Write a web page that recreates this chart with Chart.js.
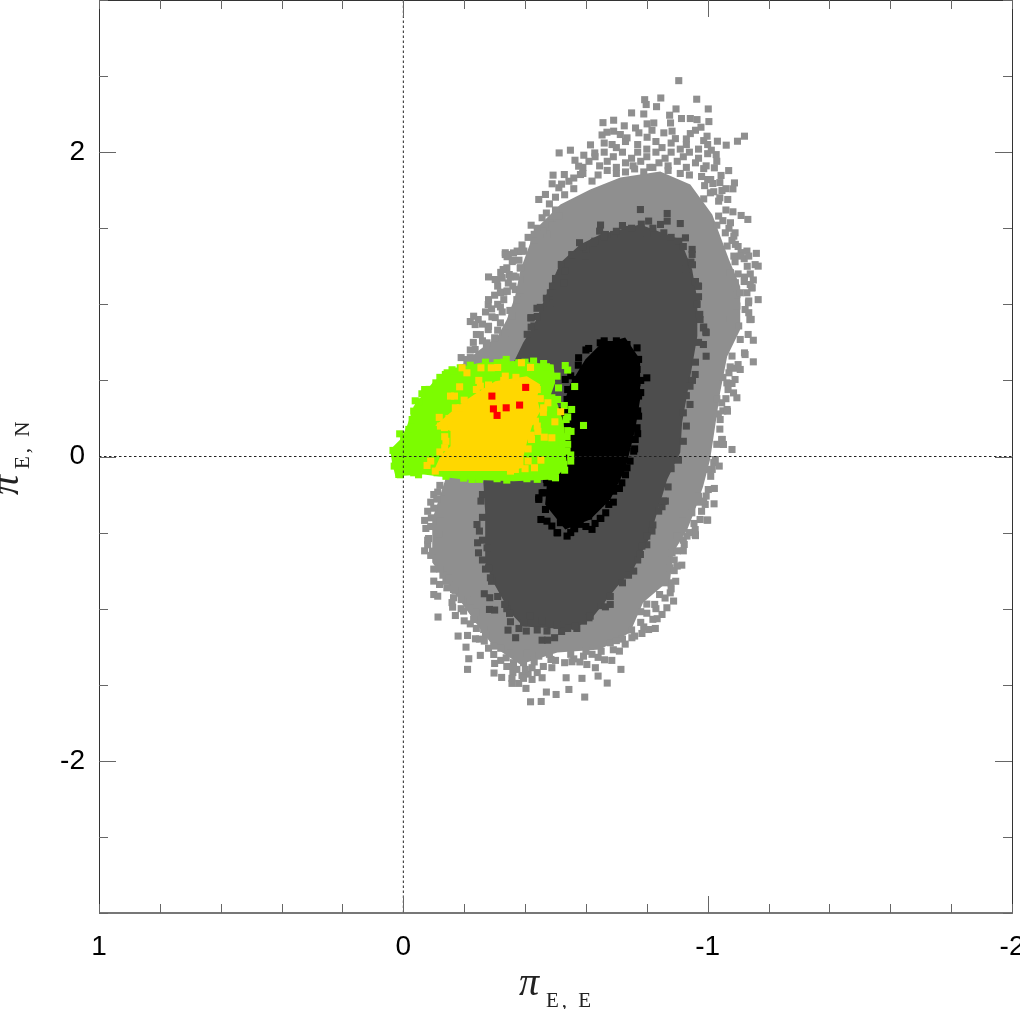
<!DOCTYPE html>
<html>
<head>
<meta charset="utf-8">
<title>Parallax</title>
<script src="https://cdn.jsdelivr.net/npm/chart.js@4"></script>
<style>
  html, body { margin: 0; padding: 0; background: #fff; }
  canvas { display: block; }
</style>
</head>
<body>
<canvas id="chart" width="1020" height="1009"></canvas>
<script>
const xLabels = [1, 0, -1, -2];
const yLabels = [2, 0, -2];
const xMajor = [0, -1];
const yMajor = [2, 0, -2];

const zeroV = [[0, -3], [0, 3]];
const zeroH = [[1, 0], [-2, 0]];

// solid part of each cloud
const lightCore = [[-0.516,1.656],[-0.614,1.754],[-0.713,1.833],[-0.844,1.873],[-0.943,1.787],[-1.015,1.59],[-1.07,1.294],[-1.107,1.117],[-1.107,0.834],[-1.064,0.657],[-1.041,0.42],[-1.018,0.112],[-1.008,-0.02],[-0.985,-0.197],[-0.959,-0.348],[-0.933,-0.48],[-0.887,-0.631],[-0.877,-0.808],[-0.788,-0.959],[-0.745,-1.156],[-0.647,-1.268],[-0.506,-1.288],[-0.384,-1.367],[-0.296,-1.248],[-0.23,-1.071],[-0.154,-0.854],[-0.095,-0.696],[-0.095,-0.414],[-0.138,-0.151],[-0.19,0.6],[-0.25,0.7],[-0.31,0.79],[-0.34,0.9],[-0.367,1.05],[-0.385,1.228],[-0.42,1.42],[-0.45,1.524]];
const darkCore = [[-0.647,1.459],[-0.778,1.525],[-0.91,1.426],[-0.949,1.229],[-0.966,1.032],[-0.966,0.79],[-0.943,0.525],[-0.916,0.223],[-0.91,0.026],[-0.867,-0.151],[-0.834,-0.368],[-0.811,-0.525],[-0.755,-0.742],[-0.703,-0.854],[-0.624,-1.051],[-0.558,-1.137],[-0.394,-1.117],[-0.351,-1.025],[-0.296,-0.828],[-0.269,-0.696],[-0.269,-0.368],[-0.263,-0.171],[-0.286,0.243],[-0.351,0.572],[-0.394,0.749],[-0.427,0.854],[-0.473,1.077],[-0.516,1.274],[-0.581,1.393]];
const blackCore = [[-0.647,0.736],[-0.729,0.782],[-0.778,0.637],[-0.778,0.375],[-0.762,0.177],[-0.729,-0.085],[-0.68,-0.283],[-0.614,-0.414],[-0.532,-0.48],[-0.466,-0.315],[-0.476,-0.085],[-0.499,0.177],[-0.548,0.473],[-0.598,0.637]];
const greenCore = [[0.01,0.112],[-0.012,0.2],[-0.034,0.331],[-0.1,0.495],[-0.176,0.583],[-0.253,0.616],[-0.362,0.627],[-0.494,0.605],[-0.499,0.484],[-0.483,0.397],[-0.505,0.353],[-0.527,0.222],[-0.532,0.046],[-0.538,-0.063],[-0.494,-0.151],[-0.362,-0.162],[-0.198,-0.151],[-0.067,-0.118],[0.026,-0.129],[0.037,-0.041],[0.043,0.046]];
const yellowCore = [[-0.16,0.298],[-0.209,0.375],[-0.242,0.419],[-0.302,0.495],[-0.406,0.528],[-0.45,0.473],[-0.439,0.386],[-0.45,0.298],[-0.423,0.2],[-0.406,0.09],[-0.395,0.003],[-0.395,-0.074],[-0.341,-0.096],[-0.198,-0.096],[-0.1,-0.096],[-0.122,0.003],[-0.155,0.068],[-0.155,0.167],[-0.105,0.204]];

// scattered points around them
const lightPts = [[-0.905,2.47],[-0.793,2.345],[-0.846,2.356],[-0.798,2.313],[-0.964,2.348],[-0.832,2.299],[-0.75,2.258],[-0.79,2.251],[-1.002,2.284],[-0.896,2.284],[-0.875,2.243],[-0.914,2.221],[-0.943,2.221],[-0.965,2.214],[-1.004,2.201],[-0.691,2.21],[-0.656,2.194],[-0.726,2.173],[-0.801,2.186],[-0.823,2.192],[-0.763,2.159],[-0.878,2.192],[-0.978,2.164],[-0.817,2.144],[-0.774,2.127],[-0.96,2.144],[-0.943,2.122],[-0.653,2.113],[-0.669,2.131],[-0.691,2.138],[-0.713,2.116],[-0.735,2.094],[-0.801,2.098],[-0.856,2.127],[-0.883,2.138],[-0.998,2.105],[-1.121,2.105],[-1.098,2.072],[-1.032,2.072],[-1.061,2.046],[-0.987,2.076],[-0.93,2.087],[-0.894,2.089],[-0.615,2.048],[-0.549,2.013],[-0.512,1.995],[-0.593,1.98],[-0.629,1.995],[-1.012,2.013],[-1.028,1.984],[-0.686,2.05],[-0.564,1.947],[-1.022,1.897],[-0.987,1.892],[-1.069,1.879],[-0.492,1.849],[-0.529,1.853],[-0.576,1.908],[-0.582,1.853],[-1.044,1.847],[-1.088,1.798],[-1,1.82],[-1.017,1.794],[-1.083,1.759],[-1.047,1.748],[-0.489,1.792],[-0.544,1.809],[-0.511,1.766],[-0.467,1.722],[-0.445,1.689],[-0.5,1.704],[-1.009,1.733],[-0.987,1.693],[-1.036,1.678],[-1.066,1.689],[-0.456,1.569],[-1.083,1.608],[-1.11,1.584],[-1.132,1.558],[-0.472,1.459],[-0.483,1.536],[-0.335,1.339],[-0.341,1.313],[-0.374,1.35],[-0.396,1.35],[-0.429,1.42],[-1.16,1.335],[-1.129,1.35],[-1.166,1.251],[-1.121,1.179],[-1.146,1.109],[-0.385,1.24],[-0.363,1.186],[-0.324,1.175],[-0.341,1.087],[-1.143,0.901],[-1.135,1.022],
  [-0.66,2.06],[-0.7,2.03],[-0.73,2.07],[-0.77,2.05],[-0.8,2.02],[-0.83,2.07],[-0.85,2.03],[-0.88,2.06],[-0.91,2.02],[-0.93,2.05],[-0.97,2.02],[-1,2.05],
  [-0.63,1.97],[-0.66,2],[-0.69,1.97],[-0.72,2],[-0.75,1.96],[-0.77,2],[-0.8,1.97],[-0.83,2],[-0.86,1.96],[-0.88,2],[-0.92,1.97],[-0.94,2],[-0.97,1.96],[-1,1.99],
  [-0.59,1.9],[-0.61,1.94],[-0.645,1.91],[-0.67,1.94],[-0.7,1.9],[-0.73,1.93],[-0.755,1.91],[-0.78,1.94],[-0.81,1.9],[-0.84,1.93],[-0.87,1.91],[-0.9,1.94],[-0.93,1.9],[-0.96,1.93],[-0.995,1.91],[-1.03,1.94],
  [-0.52,1.79],[-0.56,1.83],[-0.59,1.86],[-0.62,1.81],[-0.64,1.85],[-0.67,1.88],[-0.7,1.86],[-0.73,1.87],[-0.76,1.89],[-0.79,1.87],[-0.82,1.9],[-0.87,1.88],[-0.91,1.86],[-0.94,1.85],[-0.98,1.84],[-1.01,1.82],[-1.04,1.8],[-1.06,1.76],[-1.02,1.74],[-0.99,1.78],
  [-0.48,1.66],[-0.5,1.62],[-0.53,1.72],[-0.51,1.58],[-0.47,1.6],[-0.56,1.76],[-0.49,1.52],[-0.46,1.48],[-0.44,1.5],[-0.43,1.46],[-0.42,1.52],
  [-1.04,1.7],[-1.06,1.62],[-1.05,1.55],[-1.03,1.52],[-1.07,1.5],[-1.09,1.47],[-1.08,1.42],[-1.1,1.38],[-1.11,1.34],[-1.12,1.3],[-1.09,1.28],[-1.13,1.25],[-1.14,1.2],[-1.1,1.2],[-1.12,1.15],[-1.15,1.16],
  [-0.36,1.29],[-0.34,1.24],[-0.32,1.21],[-0.345,1.14],[-0.31,1.12],[-0.33,1.08],[-0.3,1.06],[-0.325,0.95],[-0.31,1],[-0.29,0.97],[-0.27,0.95],[-0.26,0.87],[-0.31,0.83],[-0.3,0.78],[-0.26,0.76],[-0.23,0.75],[-0.22,0.7],[-0.19,0.65],[-0.35,0.96],[-0.36,1.12],[-0.37,1.18],[-0.38,1.29],[-0.39,1.39],[-0.41,1.44],
  [-1.08,0.66],[-1.09,0.58],[-1.07,0.55],[-1.08,0.48],[-1.05,0.52],[-1.06,0.38],[-1.05,0.3],[-1.04,0.18],[-1.035,0.28],[-1.03,0.08],[-1.02,-0.04],[-1.01,-0.13],[-0.995,-0.26],[-0.98,-0.36],[-0.97,-0.3],[-0.955,-0.44],[-1.03,0.38],
  [-0.96,-0.52],[-0.92,-0.55],[-0.9,-0.52],[-0.92,-0.62],[-0.89,-0.68],[-0.9,-0.72],[-0.895,-0.82],[-0.88,-0.87],[-0.86,-0.93],[-0.83,-1],[-0.82,-1.07],[-0.8,-1.03],[-0.78,-1.09],[-0.79,-1.12],[-0.76,-1.18],[-0.72,-1.2],[-0.69,-1.27],[-0.64,-1.32],[-0.62,-1.3],[-0.58,-1.35],[-0.56,-1.33],[-0.5,-1.34],[-0.46,-1.38],[-0.44,-1.42],[-0.41,-1.43],[-0.39,-1.44],[-0.36,-1.42],[-0.34,-1.38],[-0.32,-1.34],[-0.3,-1.36],[-0.28,-1.26],[-0.25,-1.2],[-0.24,-1.13],[-0.22,-1.1],[-0.2,-1.08],[-0.19,-1],[-0.16,-0.96],[-0.17,-0.88],[-0.14,-0.82],[-0.13,-0.78],[-0.1,-0.74],[-0.07,-0.62],[-0.08,-0.58],[-0.07,-0.42],[-0.08,-0.36],[-0.1,-0.25],[-0.12,-0.19],[-0.09,-0.3],
  [-0.345,1.327],[-0.358,1.281],[-0.378,1.347],[-0.328,1.229],[-0.302,1.163],[-0.348,1.196],[-0.368,1.097],[-0.319,1.077],[-0.279,0.999],[-0.302,0.913],[-0.246,0.9],[-0.22,0.887],[-0.279,0.834],[-0.24,0.802],[-0.273,0.736],[-0.236,0.703],[-0.22,0.65],
  [-0.28,1.18],[-0.308,1.163],[-0.324,1.174],[-0.351,1.18],[-0.384,1.239],[-0.335,1.327],[-0.362,1.338],[-0.39,1.349],[-0.341,1.086],[-0.28,1.031],[-0.33,1.031],[-0.319,0.983],[-0.231,0.922],[-0.236,0.867],[-0.291,0.918],[-0.28,0.856],[-0.253,0.801],[-0.319,0.878],[-0.384,1.097],[-0.406,1.163],[-0.373,1.031],[-0.357,0.922],[-0.335,0.812],[-0.275,0.747],[-0.209,0.637],
  [-1.156,1.261],[-1.14,1.13],[-1.166,1.031],[-1.123,0.966],[-1.14,0.9],[-1.107,0.769],[-1.123,0.67],[-1.133,0.802],[-1.1,0.604],[-1.09,0.506],[-1.067,0.44],[-1.064,0.309],[-1.041,0.243],[-1.048,0.112],[-1.025,-0.02],[-1.015,-0.085],[-1.002,-0.217],[-0.992,-0.315],[-0.975,-0.414],[-0.959,-0.512],
  [-1.145,1.108],[-1.096,1.064],[-1.134,1.01],[-1.139,0.9],[-1.15,0.764],[-1.121,0.681],[-1.15,0.622],[-1.107,0.572],[-1.096,0.386],[-1.065,0.298],[-1.046,0.353],[-1.046,0.112],[-1.052,0.079],[-1.08,0.046],[-1.038,-0.063],[-1.002,-0.085],[-1.022,-0.21],[-1.021,-0.311],[-1,-0.418],[-1.085,0.418],[-1.074,0.589],[-1.063,0.484],
  [-1.036,1.58],[-1.075,1.536],[-1.058,1.47],[-1.086,1.448],[-1.091,1.394],[-1.064,1.383],[-1.107,1.317],[-1.086,1.317],[-1.135,1.317],[-1.075,1.208],[-1.091,1.142],[-1.107,1.076],[-1.129,1.076],[-1.135,0.945],[-1.096,0.989],[-1.075,0.901],[-1.102,0.858],
  [-0.113,-0.234],[-0.127,-0.282],[-0.092,-0.403],[-0.074,-0.473],[-0.122,-0.425],[-0.083,-0.539],[-0.116,-0.512],[-0.096,-0.622],[-0.1,-0.819],[-0.119,-0.841],[-0.1,-0.907],[-0.113,-0.918],[-0.143,-0.863],[-0.165,-0.928],[-0.162,-0.99],[-0.114,-1.055],[-0.171,-1.045],[-0.198,-1.016],[-0.22,-0.95],[-0.231,-1.071],[-0.18,-1.18],[-0.211,-1.176],[-0.237,-1.198],[-0.266,-1.213],[-0.206,-1.253],[-0.215,-1.329],[-0.253,-1.307],[-0.211,-1.399],[-0.297,-1.301],[-0.338,-1.323],[-0.298,-1.423],[-0.323,-1.452],[-0.357,-1.458],[-0.357,-1.491],[-0.379,-1.491],[-0.403,-1.524],[-0.395,-1.458],[-0.423,-1.465],[-0.373,-1.399],[-0.401,-1.399],[-0.423,-1.388],[-0.456,-1.454],[-0.488,-1.388],[-0.485,-1.334],[-0.53,-1.355],[-0.554,-1.349],[-0.535,-1.454],[-0.587,-1.458],[-0.603,-1.367],[-0.631,-1.388],[-0.64,-1.443],[-0.67,-1.489],[-0.544,-1.531],[-0.47,-1.548],[-0.502,-1.564],[-0.418,-1.612],[-0.453,-1.61],[-0.596,-1.581],[-0.715,-1.399],[-0.661,-1.336],[-0.685,-1.34],[-0.71,-1.279],[-0.729,-1.233],[-0.68,-1.224],[-0.751,-1.191],[-0.784,-1.163],[-0.806,-1.137],[-0.828,-1.13],[-0.834,-1.066],[-0.85,-1.038],[-0.866,-0.994],[-0.888,-0.95],[-0.826,-0.972],[-0.842,-0.907],[-0.877,-0.896],[-0.879,-0.83],[-0.877,-0.731],[-0.915,-0.714],[-0.883,-0.633],[-0.923,-0.578],[-0.959,-0.48],[-0.932,-0.523],[-0.998,-0.418],[-0.948,-0.37],[-0.915,-0.425],[-0.987,-0.293],[-0.97,-0.261],
  [-0.352,-1.29],[-0.395,-1.355],[-0.445,-1.312],[-0.362,-1.355],[-0.297,-1.246],[-0.264,-1.137],[-0.406,-1.29],[-0.592,-1.312],[-0.209,-0.896],[-0.165,-0.874],
  [-0.1,-0.34],[-0.11,-0.28],[-0.09,-0.46],[-0.08,-0.55],[-0.09,-0.65],[-0.12,-0.74],[-0.15,-0.8],[-0.19,-0.94],[-0.24,-1.02],[-0.27,-1.17],[-0.32,-1.26],[-0.36,-1.38],[-0.43,-1.35],[-0.48,-1.3],[-0.55,-1.3],[-0.6,-1.28],[-0.65,-1.28],[-0.7,-1.21],[-0.75,-1.14],[-0.78,-1.02],[-0.8,-0.97],[-0.86,-0.83],[-0.89,-0.75],[-0.9,-0.62],[-0.94,-0.5]];

const darkPts = [[-0.779,1.623],[-0.867,1.597],[-0.782,1.527],[-0.806,1.547],[-0.867,1.547],[-0.845,1.525],[-0.91,1.531],[-0.648,1.521],[-0.645,1.481],[-0.72,1.518],[-0.691,1.459],[-0.741,1.492],[-0.927,1.437],[-0.856,1.47],[-0.905,1.415],[-0.579,1.405],[-0.629,1.415],[-0.601,1.365],[-0.554,1.324],[-0.949,1.361],[-0.949,1.328],[-0.519,1.262],[-0.945,1.278],[-0.93,1.234],[-0.527,1.138],[-0.483,1.076],[-0.968,1.12],[-0.965,0.999],[-0.439,0.974],[-0.42,0.912],[-0.974,0.934],[-0.987,0.851],[-0.995,0.814],[-0.483,1.011],[-0.429,0.858],[-0.407,0.803],[-0.664,1.459],[-0.801,1.47],[-0.598,1.317],
  [-0.53,1.22],[-0.5,1.17],[-0.49,1.12],[-0.47,1.04],[-0.45,0.98],[-0.44,0.92],[-0.42,0.85],[-0.59,1.38],[-0.66,1.44],[-0.7,1.48],[-0.75,1.5],[-0.82,1.5],[-0.88,1.44],[-0.92,1.38],[-0.95,1.26],[-0.96,1.15],[-0.97,1.05],[-0.975,0.9],[-0.97,0.75],[-0.96,0.62],[-0.95,0.5],[-0.93,0.4],[-0.93,0.2],[-0.92,0.1],[-0.88,-0.08],[-0.87,-0.2],[-0.85,-0.33],[-0.82,-0.45],[-0.8,-0.58],[-0.77,-0.68],[-0.74,-0.78],[-0.72,-0.83],[-0.68,-0.92],[-0.65,-0.98],[-0.61,-1.06],[-0.57,-1.13],[-0.52,-1.15],[-0.44,-1.14],[-0.38,-1.13],[-0.34,-1],[-0.31,-0.92],[-0.29,-0.82],[-0.27,-0.74],[-0.26,-0.68],[-0.26,-0.55],[-0.26,-0.4],[-0.26,-0.25],
  [-0.97,1.119],[-0.964,1.005],[-0.973,0.933],[-0.986,0.845],[-0.994,0.819],[-0.986,0.736],[-0.995,0.659],[-0.959,0.539],[-0.942,0.462],[-0.942,0.342],[-0.92,0.287],[-0.904,-0.024],[-0.877,-0.048],[-0.855,-0.293],[-0.419,0.911],[-0.554,1.327],[-0.625,1.404],
  [-0.255,-0.293],[-0.242,-0.447],[-0.25,-0.49],[-0.244,-0.567],[-0.247,-0.633],[-0.275,-0.6],[-0.28,-0.731],[-0.286,-0.797],[-0.266,-0.902],[-0.284,-0.928],[-0.283,-1.005],[-0.3,-1.009],[-0.333,-0.972],[-0.349,-1.031],[-0.352,-1.086],[-0.344,-1.141],[-0.369,-1.191],[-0.404,-1.147],[-0.395,-1.093],[-0.417,-1.049],[-0.472,-1.147],[-0.456,-1.207],[-0.474,-1.207],[-0.497,-1.191],[-0.456,-1.082],[-0.505,-1.11],[-0.54,-1.13],[-0.565,-1.115],[-0.592,-1.082],[-0.614,-1.049],[-0.664,-0.988],[-0.68,-0.972],[-0.757,-0.753],[-0.779,-0.644],[-0.784,-0.589],[-0.817,-0.49],[-0.8,-0.523],[-0.861,-0.293],[-0.839,-0.359]];

const blackPts = [[-0.647,0.747],[-0.68,0.736],[-0.609,0.71],[-0.576,0.649],[-0.735,0.736],[-0.768,0.714],[-0.74,0.638],[-0.773,0.638],[-0.768,0.572],[-0.8,0.517],[-0.768,0.484],[-0.773,0.397],[-0.773,0.265],[-0.768,0.189],[-0.762,0.112],[-0.757,0.035],[-0.735,-0.074],[-0.718,-0.173],[-0.691,-0.228],[-0.675,-0.315],[-0.647,-0.407],[-0.62,-0.479],[-0.581,-0.446],[-0.538,-0.523],[-0.505,-0.501],[-0.488,-0.457],[-0.452,-0.414],[-0.472,-0.425],[-0.467,-0.348],[-0.445,-0.282],[-0.461,-0.238],[-0.472,-0.173],[-0.532,0.506],[-0.538,0.375],[-0.592,0.572],[-0.565,0.506],[-0.625,0.638],
  [-0.456,-0.239],[-0.445,-0.271],[-0.507,-0.501],[-0.563,-0.475],[-0.649,-0.407],
  [-0.6,0.7],[-0.575,0.6],[-0.55,0.53],[-0.54,0.44],[-0.52,0.3],[-0.5,0.2],[-0.49,0.05],[-0.48,-0.05],[-0.47,-0.15],[-0.78,0.5],[-0.78,0.42],[-0.77,0.3],[-0.77,0.15],[-0.76,0.05],[-0.745,-0.03],[-0.73,-0.12],[-0.71,-0.21],[-0.69,-0.3],[-0.665,-0.37],[-0.63,-0.44],[-0.6,-0.46],[-0.55,-0.5],[-0.7,0.76],[-0.66,0.76],
  [-0.691,0.638],[-0.713,0.55],[-0.74,0.462],[-0.746,0.331],[-0.74,0.2],[-0.729,0.068],[-0.707,-0.063],[-0.68,-0.173],[-0.647,-0.304],[-0.609,-0.392],[-0.56,-0.457],[-0.516,-0.435],[-0.494,-0.326]];

const greenPts = [[0.012,0.149],[0.034,0.04],[0.023,0.003],[0.03,-0.063],[0.015,-0.118],[-0.039,0.366],[-0.061,0.412],[-0.085,0.441],[-0.107,0.484],[-0.138,0.539],[-0.165,0.561],[-0.338,0.638],[-0.308,0.616],[-0.428,0.627],[-0.532,0.598],[-0.54,0.568],[-0.505,0.528],[-0.51,0.451],[-0.563,0.46],[-0.488,0.386],[-0.507,0.375],[-0.529,0.335],[-0.553,0.309],[-0.535,0.243],[-0.592,0.204],[-0.551,0.165],[-0.538,0.13],[-0.521,0.09],[-0.538,0.035],[-0.527,-0.052],[-0.488,-0.133],[-0.406,-0.146],[-0.308,-0.146],[-0.226,-0.151],[-0.198,-0.142],[-0.111,-0.107],[-0.034,-0.107],[-0.029,0.243],[-0.034,0.298],[-0.018,0.178],[-0.001,0.112],[0.004,0.068],[-0.187,0.583],[-0.144,0.55],[-0.379,0.616],[-0.461,0.611],
  [-0.05,0.36],[-0.07,0.44],[-0.12,0.52],[-0.16,0.57],[-0.22,0.6],[-0.27,0.62],[-0.33,0.62],[-0.4,0.62],[-0.47,0.59],[0.01,-0.12],[-0.05,-0.12],[-0.14,-0.13],[-0.25,-0.15],[-0.34,-0.155],[-0.44,-0.15],[-0.5,-0.14],[-0.53,-0.09],[-0.55,-0.03],[-0.55,0.01],[-0.54,0.08],[-0.54,0.17],[-0.54,0.26]];

const yellowPts = [[-0.193,0.583],[-0.209,0.55],[-0.255,0.583],[-0.289,0.583],[-0.31,0.585],[-0.388,0.616],[-0.418,0.585],[-0.185,0.458],[-0.248,0.5],[-0.155,0.397],[-0.168,0.397],[-0.118,0.257],[-0.136,0.13],[-0.136,0.057],[-0.078,-0.059],[-0.105,-0.096],[-0.431,-0.074],[-0.452,-0.024],[-0.421,0.112],[-0.442,0.165],[-0.463,0.127],[-0.488,0.123],[-0.498,0.228],[-0.517,0.294],[-0.461,0.32],[-0.475,0.353],[-0.434,0.232],[-0.335,0.528],[-0.187,0.32],[-0.412,0.43],[-0.253,0.462],[-0.122,0.2],[-0.171,0.32],[-0.368,-0.085],[-0.352,-0.096],
  [-0.135,0.19],[-0.14,0.1],[-0.12,0.03],[-0.09,-0.03],[-0.15,0.25],[-0.2,0.37],[-0.33,0.5],[-0.37,0.52],[-0.28,0.47],[-0.24,0.44],[-0.44,0.44],[-0.45,0.38],[-0.46,0.29],[-0.44,0.2],[-0.42,0.14],[-0.41,0.05],[-0.41,-0.03],[-0.4,-0.08]];

const redPts = [[-0.402,0.454],[-0.291,0.397],[-0.382,0.338],[-0.338,0.32],[-0.296,0.313],[-0.308,0.27]];

const LIGHT = "#8f8f8f", DARK = "#4d4d4d", BLACK = "#000000", GREEN = "#7cfc00", YELLOW = "#ffd700", RED = "#ff0000";

function squares(data, color) {
  return { data, showLine: false, pointStyle: "rect", pointRadius: 5, pointBorderWidth: 0, pointBackgroundColor: color };
}
function core(data, color) {
  return { data, showLine: true, fill: "shape", tension: 0, borderWidth: 0, pointRadius: 0, backgroundColor: color };
}
function zero(data) {
  return { data, showLine: true, fill: false, borderColor: "#222", borderWidth: 1, borderDash: [2.5, 2.5], pointRadius: 0 };
}

const axisFrame = {
  id: "axisFrame",
  afterDatasetsDraw(chart) {
    const { ctx, chartArea: a, scales } = chart;
    ctx.save();
    ctx.strokeStyle = "#333";
    ctx.lineWidth = 1;
    ctx.beginPath();
    ctx.moveTo(a.left + 0.5, a.bottom);
    ctx.lineTo(a.left + 0.5, a.top + 0.5);
    ctx.lineTo(a.right + 0.5, a.top + 0.5);
    ctx.lineTo(a.right + 0.5, a.bottom);
    ctx.stroke();
    ctx.strokeStyle = "#777";
    ctx.lineWidth = 2;
    ctx.beginPath();
    ctx.moveTo(a.left, a.bottom);
    ctx.lineTo(a.right + 1, a.bottom);
    ctx.stroke();
    ctx.strokeStyle = "#666";
    ctx.lineWidth = 1;
    ctx.beginPath();
    scales.x.ticks.forEach(t => {
      const px = Math.round(scales.x.getPixelForValue(t.value)) + 0.5;
      const len = xMajor.includes(Math.round(t.value * 10) / 10) ? 17 : 9;
      ctx.moveTo(px, a.bottom); ctx.lineTo(px, a.bottom - len);
      ctx.moveTo(px, a.top); ctx.lineTo(px, a.top + len);
    });
    scales.y.ticks.forEach(t => {
      const py = Math.round(scales.y.getPixelForValue(t.value)) + 0.5;
      const len = yMajor.includes(t.value) ? 17 : 9;
      ctx.moveTo(a.left, py); ctx.lineTo(a.left + len, py);
      ctx.moveTo(a.right, py); ctx.lineTo(a.right - len, py);
    });
    ctx.stroke();

    // axis names with subscripts
    ctx.fillStyle = "#222";
    ctx.textBaseline = "alphabetic";
    ctx.textAlign = "left";
    ctx.font = 'italic 40px "Liberation Serif"';
    ctx.fillText("π", 519, 995);
    ctx.font = '21px "Liberation Serif"';
    ctx.letterSpacing = "3px";
    ctx.fillText("E, E", 546, 1007);
    ctx.save();
    ctx.translate(18, 495);
    ctx.rotate(-Math.PI / 2);
    ctx.letterSpacing = "0px";
    ctx.font = 'italic 40px "Liberation Serif"';
    ctx.fillText("π", 0, 0);
    ctx.font = '21px "Liberation Serif"';
    ctx.letterSpacing = "3px";
    ctx.fillText("E, N", 26, 11);
    ctx.restore();
    ctx.restore();
  }
};

function noMargins(s) {
  s.paddingLeft = 0; s.paddingRight = 0; s.paddingTop = 0; s.paddingBottom = 0;
}

new Chart(document.getElementById("chart"), {
  type: "scatter",
  plugins: [axisFrame],
  data: {
    datasets: [
      zero(zeroV), zero(zeroH),
      squares(redPts, RED),
      squares(yellowPts, YELLOW), core(yellowCore, YELLOW),
      squares(greenPts, GREEN), core(greenCore, GREEN),
      squares(blackPts, BLACK), core(blackCore, BLACK),
      squares(darkPts, DARK), core(darkCore, DARK),
      squares(lightPts, LIGHT), core(lightCore, LIGHT)
    ]
  },
  options: {
    responsive: false,
    animation: false,
    layout: { autoPadding: false, padding: { right: 8 } },
    plugins: { legend: { display: false }, tooltip: { enabled: false } },
    scales: {
      x: {
        type: "linear", reverse: true, min: -2, max: 1,
        grid: { display: false }, border: { display: false },
        afterFit: s => { s.height = 96; noMargins(s); },
        ticks: {
          stepSize: 0.2, autoSkip: false, maxRotation: 0, padding: 9, color: "#000",
          font: { family: "Liberation Sans", size: 28 },
          callback: v => xLabels.includes(Math.round(v * 10) / 10) ? String(Math.round(v)) : ""
        }
      },
      y: {
        type: "linear", min: -3, max: 3,
        grid: { display: false }, border: { display: false },
        afterFit: s => { s.width = 99; noMargins(s); },
        ticks: {
          stepSize: 0.5, autoSkip: false, padding: 6, color: "#000",
          font: { family: "Liberation Sans", size: 28 },
          callback: v => yLabels.includes(v) ? String(v) : ""
        }
      }
    }
  }
});
</script>
</body>
</html>
